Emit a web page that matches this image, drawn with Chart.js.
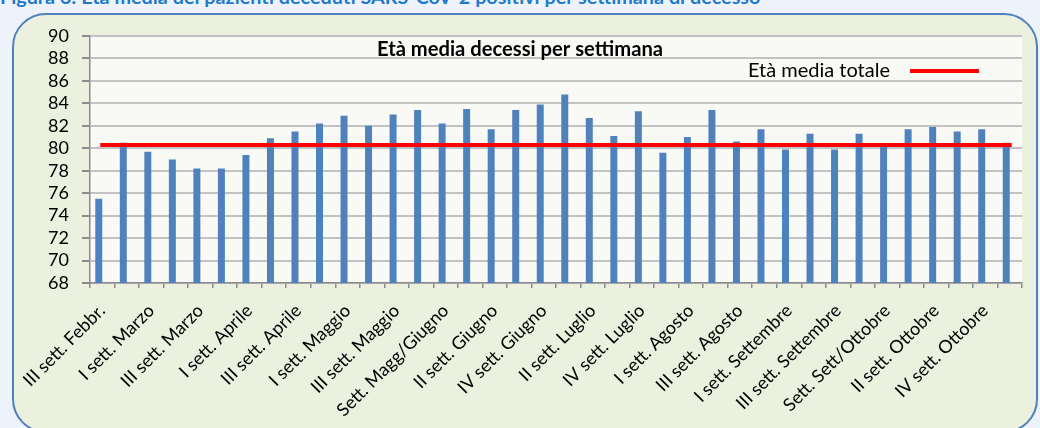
<!DOCTYPE html>
<html>
<head>
<meta charset="utf-8">
<script src="https://cdn.jsdelivr.net/npm/chart.js@4/dist/chart.umd.min.js"></script>
<style>
  html, body { margin: 0; padding: 0; background: #eef3fb; overflow: hidden; }
  #page { position: relative; width: 1040px; height: 428px; }
  #header {
    position: absolute; left: 0; top: -14px; white-space: nowrap;
    font: bold 19.8px Lato, sans-serif; color: #1f7bc9; line-height: 20px;
  }
  #box {
    position: absolute; left: 12px; top: 13px; width: 1022px; height: 416px;
    border: 2px solid #4f81bd; border-radius: 34px; background: #ebf0df;
  }
  #wrap { position: absolute; left: 0; top: 0; width: 1040px; height: 428px; }
</style>
</head>
<body>
<div id="page">
  <div id="header">Figura 3: Età media dei pazienti deceduti SARS-CoV-2 positivi per settimana di decesso</div>
  <div id="box"></div>
  <div id="wrap"><canvas id="etaChart" width="1040" height="428"></canvas></div>
</div>
<script>
// settimane di decesso (etichetta mostrata una ogni due)
const settimane = [
  'III sett. Febbr.', 'IV sett. Febbr.', 'I sett. Marzo', 'II sett. Marzo',
  'III sett. Marzo', 'IV sett. Marzo', 'I sett. Aprile', 'II sett. Aprile',
  'III sett. Aprile', 'IV sett. Aprile', 'I sett. Maggio', 'II sett. Maggio',
  'III sett. Maggio', 'IV sett. Maggio', 'Sett. Magg/Giugno', 'I sett. Giugno',
  'II sett. Giugno', 'III sett. Giugno', 'IV sett. Giugno', 'I sett. Luglio',
  'II sett. Luglio', 'III sett. Luglio', 'IV sett. Luglio', 'Sett. Lugl/Agosto',
  'I sett. Agosto', 'II sett. Agosto', 'III sett. Agosto', 'IV sett. Agosto',
  'I sett. Settembre', 'II sett. Settembre', 'III sett. Settembre', 'IV sett. Settembre',
  'Sett. Sett/Ottobre', 'I sett. Ottobre', 'II sett. Ottobre', 'III sett. Ottobre',
  'IV sett. Ottobre', 'V sett. Ottobre'
]

// età media dei deceduti per settimana
const etaMedia = [
  75.5, 80.5, 79.7, 79.0, 78.2, 78.2, 79.4, 80.9, 81.5, 82.2,
  82.9, 82.0, 83.0, 83.4, 82.2, 83.5, 81.7, 83.4, 83.9, 84.8,
  82.7, 81.1, 83.3, 79.6, 81.0, 83.4, 80.6, 81.7, 79.9, 81.3,
  79.9, 81.3, 80.3, 81.7, 81.9, 81.5, 81.7, 80.5
]

// età media totale (linea di riferimento)
const etaMediaTotale = 80.3

const yTicks = [68, 70, 72, 74, 76, 78, 80, 82, 84, 86, 88, 90]

const FONT = 'Lato, sans-serif'

// sfondo area del grafico, titolo e legenda dentro l'area
const decorPlugin = {
  id: 'decor',
  beforeDraw(chart) {
    const a = chart.chartArea
    const c = chart.ctx
    c.save()
    c.fillStyle = '#f9faf6'
    c.fillRect(a.left, a.top, a.right - a.left, a.bottom - a.top)
    c.restore()
  },
  afterDraw(chart) {
    const a = chart.chartArea
    const c = chart.ctx
    c.save()
    c.fillStyle = '#000'
    c.textBaseline = 'middle'
    c.textAlign = 'center'
    c.font = 'bold 20.2px ' + FONT
    c.fillText('Età media decessi per settimana', chart.width / 2, a.top + 13)

    const ds = chart.data.datasets[2]
    c.font = '20px ' + FONT
    c.textAlign = 'right'
    const lx = a.right - 132
    const ly = a.top + 35
    c.fillText(ds.label, lx, ly)
    c.strokeStyle = ds.borderColor
    c.lineWidth = ds.borderWidth
    c.beginPath()
    c.moveTo(lx + 20, ly)
    c.lineTo(lx + 89, ly)
    c.stroke()
    c.restore()
  }
}

const ctx = document.getElementById('etaChart').getContext('2d')
new Chart(ctx, {
  data: {
    labels: settimane,
    datasets: [
      {
        type: 'bar',
        label: 'Età media',
        data: etaMedia,
        backgroundColor: '#4f81bd',
        borderWidth: 0,
        categoryPercentage: 0.57,
        barPercentage: 1,
        order: 2
      },
      {
        // serie vuota affiancata, come nel foglio originale (sposta le barre a sinistra)
        type: 'bar',
        label: '',
        data: [],
        backgroundColor: 'rgba(0,0,0,0)',
        categoryPercentage: 0.57,
        barPercentage: 1,
        order: 3
      },
      {
        type: 'line',
        label: 'Età media totale',
        data: settimane.map(() => etaMediaTotale),
        borderColor: '#ff0000',
        borderWidth: 4,
        borderCapStyle: 'square',
        pointRadius: 0,
        fill: false,
        order: 1
      }
    ]
  },
  options: {
    responsive: false,
    animation: false,
    layout: { padding: { left: 0, top: 36, right: 18, bottom: 0 } },
    plugins: {
      legend: { display: false },
      title: { display: false },
      tooltip: { enabled: false }
    },
    scales: {
      x: {
        offset: true,
        afterFit: (s) => { s.height = 145 },
        grid: {
          offset: true,
          drawOnChartArea: false,
          drawTicks: true,
          tickLength: 5,
          color: '#8c8c8c',
          lineWidth: 1.5
        },
        border: { color: '#8c8c8c', width: 1.5 },
        ticks: {
          autoSkip: false,
          maxRotation: 45,
          minRotation: 45,
          padding: 12,
          color: '#000',
          font: { family: FONT, size: 18 },
          callback: (v, i) => (i % 2 === 0 ? settimane[i] : '')
        }
      },
      y: {
        min: 68,
        max: 90,
        afterFit: (s) => { s.width = 90 },
        afterBuildTicks: (s) => { s.ticks = yTicks.map((v) => ({ value: v })) },
        grid: {
          color: '#c2c2c2',
          lineWidth: 2,
          tickLength: 8,
          tickColor: '#8c8c8c'
        },
        border: { color: '#8c8c8c', width: 1.5 },
        ticks: {
          autoSkip: false,
          padding: 13,
          color: '#000',
          font: { family: FONT, size: 18 }
        }
      }
    }
  },
  plugins: [decorPlugin]
})
</script>
</body>
</html>
